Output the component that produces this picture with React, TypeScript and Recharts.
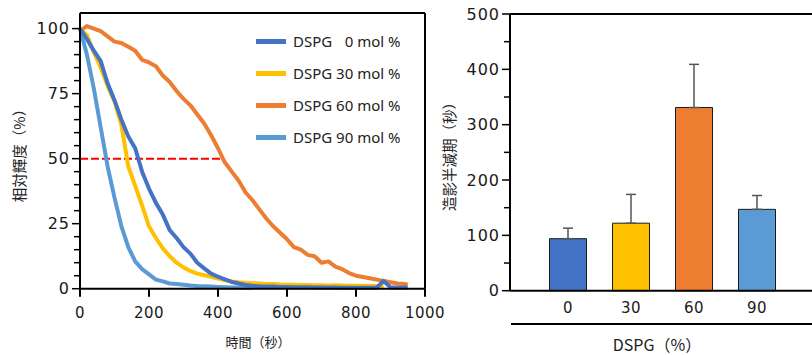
import React from 'react'
import {
  LineChart, Line, BarChart, Bar, Cell, ErrorBar, XAxis, YAxis,
  ReferenceLine, Legend,
} from 'recharts'

// time axis (seconds) shared by all four decay curves
const times = [0, 20, 40, 60, 80, 100, 120, 140, 160, 180, 200, 220, 240, 260, 280, 300, 320, 340, 360, 380, 400, 420, 440, 460, 480, 500, 520, 540, 560, 580, 600, 620, 640, 660, 680, 700, 720, 740, 760, 780, 800, 820, 840, 860, 880, 900, 920, 940, 950]

const dspg0 = [100, 96, 91.5, 87.5, 79, 72.5, 65, 58.5, 54, 45, 38.5, 33, 28.5, 22.5, 19.5, 16, 13.5, 10, 7.8, 5.8, 4.6, 3.6, 2.6, 2, 1.4, 1.1, 0.9, 0.8, 0.8, 0.7, 0.7, 0.6, 0.6, 0.6, 0.5, 0.5, 0.5, 0.5, 0.4, 0.4, 0.4, 0.4, 0.4, 0.4, 3, 0.5, 0.5, 0.5, 0.4]
const dspg30 = [100, 97.5, 91, 85, 78, 72, 63, 47, 39.5, 32, 24, 19.5, 15.5, 12.5, 10, 8.2, 6.8, 5.8, 5.2, 4.6, 3.9, 3.3, 2.8, 2.5, 2.3, 2.1, 2, 1.8, 1.8, 1.6, 1.5, 1.5, 1.4, 1.4, 1.3, 1.3, 1.2, 1.3, 1.2, 1.1, 1.1, 1.1, 1, 1, 0.9, null, null, null, null]
const dspg60 = [99, 101, 100, 99, 97, 95, 94.5, 93, 91.5, 88, 87, 85.5, 82, 79.5, 76, 73, 70.5, 67, 63.5, 59, 54, 48.5, 45, 41.5, 37, 34, 30.5, 27, 24, 21.5, 19, 16, 15, 13, 12.5, 10, 10.5, 8.5, 7.5, 6, 5, 4.5, 4, 3.5, 3, 2.5, 2, 1.8, 1.5]
const dspg90 = [100, 90, 77, 62, 47, 35, 24, 16, 10.5, 7.5, 5.5, 3.5, 2.8, 2, 1.8, 1.5, 1.2, 1, 0.9, 0.8, 0.7, 0.6, 0.5, 0.5, 0.4, 0.4, null, null, null, null, null, null, null, null, null, null, null, null, null, null, null, null, null, null, null, null, null, null, null]

const halfLevel = 50
const halfLineEnd = 406

// bar chart: half-life of contrast (s)
const dspgLevels = ['0', '30', '60', '90']
const halfLives = [94, 122, 331, 147]
const halfLifeErr = [19, 52, 78, 25]

const colors = ['#4472C4', '#FFC000', '#ED7D31', '#5B9BD5']
const names = ['DSPG\u2007 0 mol %', 'DSPG 30 mol %', 'DSPG 60 mol %', 'DSPG 90 mol %']

const lineData = times.map((t, i) => ({
  t,
  d0: dspg0[i],
  d30: dspg30[i],
  d60: dspg60[i],
  d90: dspg90[i],
}))

const barData = dspgLevels.map((d, i) => ({
  dspg: d,
  value: halfLives[i],
  err: [0, halfLifeErr[i]],
}))

const tickFont = { fontFamily: 'DejaVu Sans', fill: '#1a1a1a' }

const makeYTick = (majorStep: number) => (props: any) => {
  const { x, y, payload } = props
  const v = payload.value
  const major = v % majorStep === 0
  return (
    <g>
      <line x1={x - (major ? 8 : 6)} x2={x} y1={y} y2={y} stroke="#000" strokeWidth={1.5} />
      {major && (
        <text x={x - 10} y={y} dy="0.36em" textAnchor="end" fontSize={16} letterSpacing={1} {...tickFont}>
          {v}
        </text>
      )}
    </g>
  )
}

// legend in the order 0, 30, 60, 90 regardless of drawing order
const LegendBox = ({ payload }: any) => {
  const items = [...(payload || [])].sort((a: any, b: any) => names.indexOf(a.value) - names.indexOf(b.value))
  return (
    <div style={{ fontFamily: '"Noto Sans", sans-serif', fontSize: 15, color: '#222' }}>
      {items.map((p: any, i: number) => (
        <div key={i} style={{ display: 'flex', alignItems: 'center', height: 32 }}>
          <div style={{ width: 30, height: 5, background: p.color, marginRight: 7 }} />
          <span style={{ whiteSpace: 'pre' }}>{p.value}</span>
        </div>
      ))}
    </div>
  )
}

const title = (text: string, cx: number, cy: number, size: number, rotate = false) => (
  <div
    style={{
      position: 'absolute', left: cx, top: cy, whiteSpace: 'nowrap',
      transform: `translate(-50%, -50%)${rotate ? ' rotate(-90deg)' : ''}`,
      fontFamily: '"Noto Sans CJK JP", "Noto Sans", sans-serif', fontSize: size, color: '#222',
      lineHeight: 1,
    }}
  >
    {text}
  </div>
)

export default function App() {
  const leftYTicks = Array.from({ length: 21 }, (_, i) => i * 5)
  const rightYTicks = Array.from({ length: 11 }, (_, i) => i * 50)
  return (
    <div style={{ position: 'absolute', left: 0, top: 0, width: 812, height: 355, background: '#fff', overflow: 'hidden' }}>
      <div style={{ position: 'absolute', left: 0, top: 0 }}>
        <LineChart width={460} height={355} data={lineData} margin={{ top: 13, right: 35, bottom: 36.3, left: 20 }}>
          <XAxis
            dataKey="t"
            type="number"
            domain={[0, 1000]}
            ticks={[0, 200, 400, 600, 800, 1000]}
            height={30}
            axisLine={{ stroke: '#000', strokeWidth: 2 }}
            tickLine={{ stroke: '#000', strokeWidth: 2 }}
            tickSize={8}
            tickMargin={11}
            tick={{ fontSize: 15, letterSpacing: 0.5, ...tickFont }}
          />
          <YAxis
            type="number"
            domain={[0, 106]}
            ticks={leftYTicks}
            width={60}
            axisLine={{ stroke: '#000', strokeWidth: 2 }}
            tickLine={false}
            tickSize={0}
            tickMargin={0}
            tick={makeYTick(25)}
            interval={0}
          />
          <ReferenceLine y={106} stroke="#000" strokeWidth={2} />
          <ReferenceLine x={1000} stroke="#000" strokeWidth={2} />
          <ReferenceLine
            segment={[{ x: 0, y: halfLevel }, { x: halfLineEnd, y: halfLevel }]}
            stroke="#FF0000"
            strokeWidth={2}
            strokeDasharray="8 3"
          />
          <Legend
            layout="vertical"
            align="center"
            verticalAlign="middle"
            content={<LegendBox />}
            wrapperStyle={{ left: 256, top: 25, width: 170, height: 130 }}
          />
          <Line dataKey="d60" name={names[2]} stroke={colors[2]} strokeWidth={4} dot={false} strokeLinejoin="round" isAnimationActive={false} />
          <Line dataKey="d90" name={names[3]} stroke={colors[3]} strokeWidth={4} dot={false} strokeLinejoin="round" isAnimationActive={false} />
          <Line dataKey="d30" name={names[1]} stroke={colors[1]} strokeWidth={4} dot={false} strokeLinejoin="round" isAnimationActive={false} />
          <Line dataKey="d0" name={names[0]} stroke={colors[0]} strokeWidth={4} dot={false} strokeLinejoin="round" isAnimationActive={false} />
        </LineChart>
      </div>

      <div style={{ position: 'absolute', left: 430, top: 0 }}>
        <BarChart width={382} height={355} data={barData} margin={{ top: 14, right: 0, bottom: 34.3, left: 20 }}>
          <XAxis
            dataKey="dspg"
            height={30}
            padding={{ left: 26.5, right: 23.5 }}
            axisLine={{ stroke: '#000', strokeWidth: 2 }}
            tickLine={false}
            tickSize={0}
            tickMargin={12}
            tick={{ fontSize: 15, letterSpacing: 0.5, ...tickFont }}
          />
          <YAxis
            type="number"
            domain={[0, 500]}
            ticks={rightYTicks}
            width={60}
            axisLine={{ stroke: '#000', strokeWidth: 2 }}
            tickLine={false}
            tickSize={0}
            tickMargin={0}
            tick={makeYTick(100)}
            interval={0}
          />
          <ReferenceLine y={500} stroke="#000" strokeWidth={2} />
          <Bar dataKey="value" barSize={37} stroke="#1a1a1a" strokeWidth={1} isAnimationActive={false}>
            {barData.map((_, i) => (
              <Cell key={i} fill={colors[i]} />
            ))}
            <ErrorBar dataKey="err" width={5} stroke="#555" strokeWidth={1.5} direction="y" />
          </Bar>
        </BarChart>
      </div>

      <div style={{ position: 'absolute', left: 511, top: 323, width: 301, height: 2, background: '#000' }} />

      {title('相対輝度（%）', 19, 152, 14.5, true)}
      {title('時間（秒）', 258, 341, 13)}
      {title('造影半減期（秒）', 449, 153, 14.5, true)}
      {title('DSPG（%）', 657, 344, 16)}
    </div>
  )
}
